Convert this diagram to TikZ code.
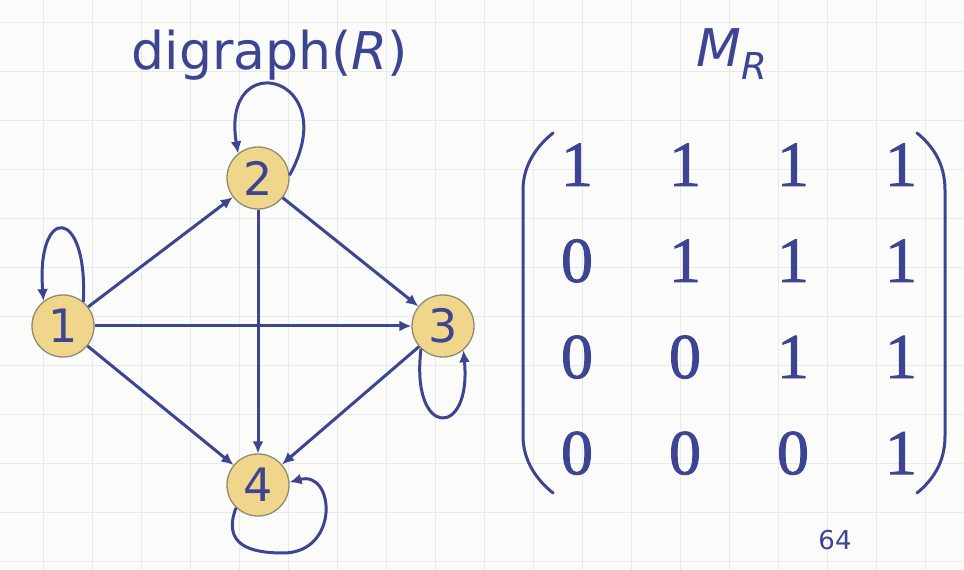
\documentclass[tikz,border=0pt]{standalone}
\usepackage{fontspec}
\setmainfont{Liberation Serif}
\setsansfont{DejaVu Sans}[ItalicFont={DejaVu Sans Oblique}]
\usepackage{tikz}
\usetikzlibrary{arrows.meta,matrix}
\definecolor{navy}{HTML}{3D4593}
\definecolor{paper}{HTML}{FBFBFA}
\definecolor{gridc}{HTML}{E6EAEC}
\definecolor{gold}{HTML}{F0D68A}
\definecolor{rim}{HTML}{8F8A72}
\tikzset{
  vtx/.style={circle, draw=rim, fill=gold, line width=1.3pt, minimum size=62pt,
              inner sep=0pt, font=\sffamily\fontsize{46}{46}\selectfont, text=navy},
  rel/.style={-{Latex[length=12pt,width=11pt]}, line width=3pt, color=navy},
  cell/.style={font=\fontsize{64}{64}\selectfont\addfontfeature{FakeBold=1.4},
               text=navy, minimum width=108pt, minimum height=72pt, inner sep=0pt},
  paren/.style={line width=3pt, color=navy, line cap=round},
  gridln/.style={line width=1pt, color=gridc},
  ttl/.style={font=\sffamily\fontsize{52}{52}\selectfont, text=navy},
}

\begin{document}
\begin{tikzpicture}[x=1pt,y=1pt]
\fill[paper] (0,0) rectangle (964,570);
\useasboundingbox (0,0) rectangle (964,570);
\foreach \gx in {0,...,19} \draw[gridln] ({43+49*\gx},0) -- ({43+49*\gx},570);
\foreach \gy in {0,...,11} \draw[gridln] (0,{547-49*\gy}) -- (964,{547-49*\gy});

\node[ttl, anchor=base] (title) at (270,500) {digraph(\textit{R})};
\node[ttl, font=\sffamily\itshape\fontsize{52}{52}\selectfont, anchor=base west] (mname)
  at (693,503) {M\raisebox{-13pt}{\fontsize{37}{37}\selectfont R}};

\node[vtx] (n1) at (63,244) {1};
\node[vtx] (n2) at (258,392) {2};
\node[vtx] (n3) at (443,244) {3};
\node[vtx] (n4) at (258,85) {4};

\draw[rel] (n1) -- (n2);
\draw[rel] (n1) -- (n3);
\draw[rel] (n1) -- (n4);
\draw[rel] (n2) -- (n3);
\draw[rel] (n2) -- (n4);
\draw[rel] (n3) -- (n4);

\draw[rel] (n1.50) .. controls (88,365) and (36,365) .. (n1.128);
\draw[rel] (n2.5) .. controls (345,495) and (220,525) .. (n2.129);
\draw[rel] (n3.226) .. controls (410,131) and (472,131) .. (n3.310);
\draw[rel] (n4.226) .. controls (222,25) and (250,17) .. (283,17)
  .. controls (340,17) and (335,100) .. (n4.5);

\matrix (mr) [matrix of nodes, nodes={cell}, row sep=24pt, column sep=0pt,
  inner sep=0pt] at (739,261) {
  1 & 1 & 1 & 1 \\
  0 & 1 & 1 & 1 \\
  0 & 0 & 1 & 1 \\
  0 & 0 & 0 & 1 \\
};
\draw[paren] (553,437) .. controls (532,420) and (523,400) .. (523,380) -- (523,134)
  .. controls (523,114) and (532,94) .. (553,77);
\draw[paren] (917,437) .. controls (938,420) and (945,400) .. (945,380) -- (945,134)
  .. controls (945,114) and (938,94) .. (917,77);

\node[font=\sffamily\fontsize{26}{26}\selectfont, text=navy] (page) at (835,30) {64};
\end{tikzpicture}
\end{document}
